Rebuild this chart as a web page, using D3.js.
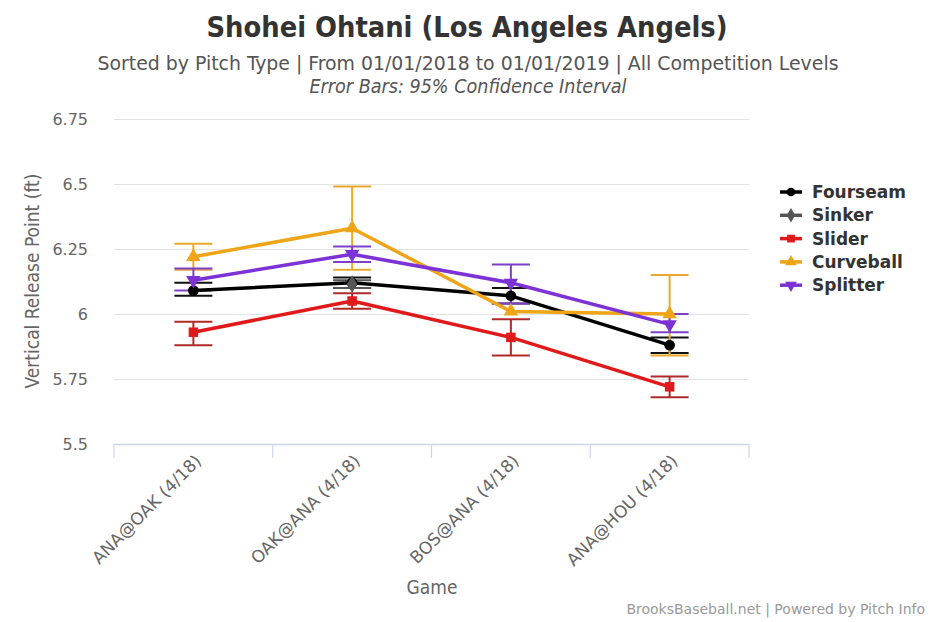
<!DOCTYPE html>
<html><head><meta charset="utf-8">
<script src="https://cdn.jsdelivr.net/npm/d3@7"></script>
<style>body{margin:0;background:#fff}svg{display:block}</style>
</head><body>
<svg id="c" width="934" height="622"></svg>
<script>
const games = ["ANA@OAK (4/18)", "OAK@ANA (4/18)", "BOS@ANA (4/18)", "ANA@HOU (4/18)"];
const yTicks = [5.5, 5.75, 6, 6.25, 6.5, 6.75];
const seriesNames = ["Fourseam", "Sinker", "Slider", "Curveball", "Splitter"];
const fourseam   = [6.09, 6.12, 6.07, 5.88];
const fourseamLo = [6.07, 6.10, 6.04, 5.85];
const fourseamHi = [6.12, 6.14, 6.10, 5.91];
const sinker     = [null, 6.115, null, null];
const sinkerLo   = [null, 6.10, null, null];
const sinkerHi   = [null, 6.13, null, null];
const slider     = [5.93, 6.05, 5.91, 5.72];
const sliderLo   = [5.88, 6.02, 5.84, 5.68];
const sliderHi   = [5.97, 6.08, 5.98, 5.76];
const curveball  = [6.22, 6.33, 6.01, 6.00];
const curveballLo= [6.17, 6.17, null, 5.84];
const curveballHi= [6.27, 6.49, null, 6.15];
const splitter   = [6.13, 6.23, 6.12, 5.96];
const splitterLo = [6.09, 6.20, 6.04, 5.93];
const splitterHi = [6.175, 6.26, 6.19, 6.00];

const series = [
  {name:seriesNames[0], v:fourseam, lo:fourseamLo, hi:fourseamHi, color:"#000000", bar:"#111111", sym:d3.symbolCircle},
  {name:seriesNames[1], v:sinker, lo:sinkerLo, hi:sinkerHi, color:"#555555", bar:"#555555", sym:d3.symbolDiamond},
  {name:seriesNames[2], v:slider, lo:sliderLo, hi:sliderHi, color:"#e0191b", bar:"#b02a2a", sym:d3.symbolSquare},
  {name:seriesNames[3], v:curveball, lo:curveballLo, hi:curveballHi, color:"#eea517", bar:"#e8aa2a", sym:d3.symbolTriangle},
  {name:seriesNames[4], v:splitter, lo:splitterLo, hi:splitterHi, color:"#7d32d6", bar:"#7d40c8", sym:d3.symbolTriangle, down:true}
];

const svg = d3.select("#c");
const fontC = "'DejaVu Sans Condensed','DejaVu Sans',sans-serif";
const fontN = "'DejaVu Sans',sans-serif";
const L = 114, R = 749, T = 119, B = 444;
const x = d3.scaleBand().domain(games).range([L, R]);
const y = d3.scaleLinear().domain([5.5, 6.75]).range([B, T]);

// titles
svg.append("text").attr("x", 467).attr("y", 37).attr("text-anchor","middle")
  .attr("font-family", fontC).attr("font-size", 29).attr("font-weight","bold").attr("fill","#333")
  .attr("textLength", 521).attr("lengthAdjust","spacingAndGlyphs")
  .text("Shohei Ohtani (Los Angeles Angels)");
svg.append("text").attr("x", 468).attr("y", 70).attr("text-anchor","middle")
  .attr("font-family", fontC).attr("font-size", 20).attr("fill","#555")
  .attr("textLength", 741).attr("lengthAdjust","spacingAndGlyphs")
  .text("Sorted by Pitch Type | From 01/01/2018 to 01/01/2019 | All Competition Levels");
svg.append("text").attr("x", 468).attr("y", 93).attr("text-anchor","middle")
  .attr("font-family", fontC).attr("font-size", 19).attr("font-style","italic").attr("fill","#555")
  .attr("textLength", 317).attr("lengthAdjust","spacingAndGlyphs")
  .text("Error Bars: 95% Confidence Interval");

// grid
const gy = svg.append("g").attr("transform", `translate(${L},0)`)
  .call(d3.axisLeft(y).tickValues(yTicks).tickSize(-(R - L)).tickFormat(d3.format("")));
gy.select(".domain").remove();
gy.selectAll(".tick line").attr("stroke","#e3e3e3").attr("stroke-width",1);
gy.selectAll(".tick text").attr("x", -26).attr("font-family", fontN).attr("font-size", 16).attr("fill","#666");
gy.selectAll(".tick").filter(d => d === 5.5).select("line").remove();

// x axis
const gx = svg.append("g").attr("transform", `translate(0,${B})`)
  .call(d3.axisBottom(x).tickSize(0));
gx.select(".domain").attr("stroke","#ccd6eb").attr("stroke-width",1.5);
const tickPos = games.map(g => x(g)).concat([R]);
gx.selectAll(".xt").data(tickPos).enter().append("line").attr("class","xt")
  .attr("x1", d => d).attr("x2", d => d).attr("y1", 0).attr("y2", 14).attr("stroke","#ccd6eb").attr("stroke-width",1.2);
gx.selectAll(".tick text").attr("font-family", fontN).attr("font-size", 17).attr("fill","#666")
  .attr("text-anchor","end").attr("dy", 0).attr("y", 0)
  .attr("transform", "translate(9,18) rotate(-45)");

svg.append("text").attr("x", 432).attr("y", 594).attr("text-anchor","middle")
  .attr("font-family", fontC).attr("font-size", 19).attr("fill","#666").text("Game");
svg.append("text").attr("transform","translate(39,281) rotate(-90)").attr("text-anchor","middle")
  .attr("font-family", fontC).attr("font-size", 19).attr("fill","#666").text("Vertical Release Point (ft)");

const cx = i => x(games[i]) + x.bandwidth() / 2;
const capW = 19;

// error bars
series.forEach(s => {
  const g = svg.append("g");
  s.v.forEach((v, i) => {
    if (v == null || s.lo[i] == null) return;
    const X = cx(i);
    g.append("line").attr("x1", X).attr("x2", X).attr("y1", y(s.lo[i])).attr("y2", y(s.hi[i])).attr("stroke", s.bar).attr("stroke-width", 2);
    [s.lo[i], s.hi[i]].forEach(e => g.append("line").attr("x1", X - capW).attr("x2", X + capW)
      .attr("y1", y(e)).attr("y2", y(e)).attr("stroke", s.bar).attr("stroke-width", 2));
  });
});

// lines + markers
const line = d3.line().defined(d => d[1] != null).x(d => cx(d[0])).y(d => y(d[1]));
series.forEach(s => {
  const pts = s.v.map((v, i) => [i, v]);
  svg.append("path").attr("d", line(pts)).attr("fill","none").attr("stroke", s.color).attr("stroke-width", 3.5).attr("stroke-linejoin","round");
  pts.filter(p => p[1] != null).forEach(p => {
    svg.append("path").attr("d", d3.symbol(s.sym, 90)())
      .attr("transform", `translate(${cx(p[0])},${y(p[1])})${s.down ? " rotate(180)" : ""}`)
      .attr("fill", s.color);
  });
});

// legend
series.forEach((s, i) => {
  const ly = 192 + i * 23.3;
  const g = svg.append("g").attr("transform", `translate(780,${ly})`);
  g.append("line").attr("x1", 0).attr("x2", 22).attr("y1", 0).attr("y2", 0).attr("stroke", s.color).attr("stroke-width", 3.5);
  g.append("path").attr("d", d3.symbol(s.sym, 60)()).attr("transform", `translate(11,0)${s.down ? " rotate(180)" : ""}`).attr("fill", s.color);
  g.append("text").attr("x", 32).attr("y", 6).attr("font-family", fontN).attr("font-size", 17).attr("font-weight","bold").attr("fill","#333").text(s.name);
});

svg.append("text").attr("x", 925).attr("y", 614).attr("text-anchor","end")
  .attr("font-family", fontN).attr("font-size", 14).attr("fill","#999").text("BrooksBaseball.net | Powered by Pitch Info");
</script>
</body></html>
